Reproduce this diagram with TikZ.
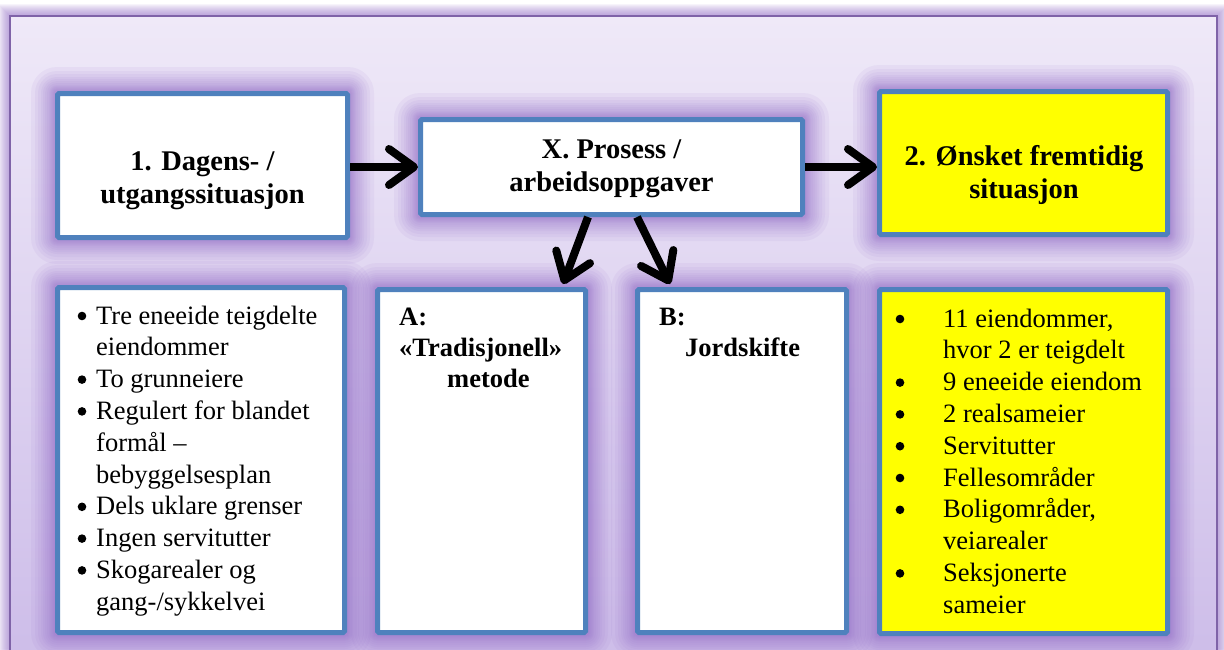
\documentclass[tikz,border=0pt]{standalone}
\usepackage{fontspec}
\setmainfont{Liberation Serif}
\usetikzlibrary{arrows.meta,calc}

\definecolor{boxblue}{HTML}{4F81BD}
\definecolor{frameline}{HTML}{7F63A8}
\definecolor{glowc}{HTML}{9670CA}
\definecolor{bgtop}{HTML}{EFE9F8}
\definecolor{bgbot}{HTML}{CBBAE8}
\definecolor{hilite}{HTML}{FFFF00}

\pgfdeclarelayer{bg}
\pgfdeclarelayer{glow}
\pgfsetlayers{bg,glow,main}

\tikzset{
  box/.style={draw=boxblue, line width=5pt, fill=white, inner sep=0pt, rounded corners=1.5pt},
  hlbox/.style={box, fill=hilite},
  title/.style={font=\fontsize{28.5}{33}\selectfont\bfseries, inner sep=0pt, anchor=base},
  subtitle/.style={font=\fontsize{26.5}{31}\selectfont\bfseries, inner sep=0pt, anchor=base west},
  body/.style={font=\fontsize{26.5}{31.8}\selectfont, inner sep=0pt, anchor=base west},
  bulletdot/.style={fill=black},
  bigarrow/.style={line width=8pt, -{Straight Barb[length=25pt,width=36pt,round]}},
}

% soft purple halo around a named box
\newcommand\halo[1]{%
  \foreach \d in {1,2,3,4,5,6,8,10,12,14,17,20,24}{%
    \fill[glowc, opacity=0.08, rounded corners={\d+2}]
      ($(#1.north west)+(-\d,-\d)$) rectangle ($(#1.south east)+(\d,\d)$);
  }}

\begin{document}
\begin{tikzpicture}[x=1pt,y=-1pt]
\useasboundingbox (0,0) rectangle (1224,649);
\clip (0,0) rectangle (1224,649);

% outer panel
\begin{pgfonlayer}{bg}
  \fill[white] (0,0) rectangle (1224,649);
  \foreach \d in {1,...,12}{%
    \draw[glowc, opacity=0.07, line width={2*\d}] (10,16) rectangle (1217,700);
  }
  \shade[top color=bgtop, bottom color=bgbot] (10,16) rectangle (1217,700);
  \draw[frameline, line width=2.5pt] (10,16) rectangle (1217,700);
\end{pgfonlayer}

% top row
\node[box, minimum width=290pt, minimum height=144pt] (b1) at (202.5,165.5) {};
\node[box, minimum width=382pt, minimum height=95pt] (bx) at (611.5,167) {};
\node[hlbox, minimum width=288pt, minimum height=143pt] (b2) at (1023.5,163) {};

% bottom row
\node[box, minimum width=287pt, minimum height=345pt] (l1) at (201,460) {};
\node[box, minimum width=208pt, minimum height=343pt] (bA) at (481.5,461) {};
\node[box, minimum width=209pt, minimum height=343pt] (bB) at (742,461) {};
\node[hlbox, minimum width=288pt, minimum height=344pt] (l2) at (1023.5,461.5) {};

\begin{pgfonlayer}{glow}
  \halo{b1}\halo{bx}\halo{b2}\halo{l1}\halo{bA}\halo{bB}\halo{l2}
\end{pgfonlayer}

% headings
\node[title] (t1) at (202.5,170) {\begin{tabular}[t]{@{}c@{}}1. Dagens- /\\utgangssituasjon\end{tabular}};
\node[title] (tx) at (611.5,158) {\begin{tabular}[t]{@{}c@{}}X. Prosess /\\arbeidsoppgaver\end{tabular}};
\node[title] (t2) at (1024,165) {\begin{tabular}[t]{@{}c@{}}2. Ønsket fremtidig\\situasjon\end{tabular}};

% current situation
\node[body] (l1t) at (96,324) {\begin{tabular}[t]{@{}l@{}}
Tre eneeide teigdelte\\
eiendommer\\
To grunneiere\\
Regulert for blandet\\
formål –\\
bebyggelsesplan\\
Dels uklare grenser\\
Ingen servitutter\\
Skogarealer og\\
gang-/sykkelvei
\end{tabular}};
\foreach \k in {0,2,3,6,7,8}
  \fill[bulletdot] ($(l1t.base west)+(-14,{\k*31.8-8})$) circle (4.3);

% methods
\node[subtitle] (tA) at (399,325) {\begin{tabular}[t]{@{}l@{}}
A:\\
«Tradisjonell»\\
\hspace*{48pt}metode
\end{tabular}};
\node[subtitle] (tB) at (659,325) {\begin{tabular}[t]{@{}l@{}}
B:\\
\hspace*{26pt}Jordskifte
\end{tabular}};

% desired situation
\node[body] (l2t) at (943,327) {\begin{tabular}[t]{@{}l@{}}
11 eiendommer,\\
hvor 2 er teigdelt\\
9 eneeide eiendom\\
2 realsameier\\
Servitutter\\
Fellesområder\\
Boligområder,\\
veiarealer\\
Seksjonerte\\
sameier
\end{tabular}};
\foreach \k in {0,2,3,4,5,6,8}
  \fill[bulletdot] ($(l2t.base west)+(-43,{\k*31.8-8})$) circle (4.3);

% process arrows
\draw[bigarrow] (b1.east |- bx.west) -- (bx.west);
\draw[bigarrow] (bx.east) -- (bx.east -| b2.west);
\draw[bigarrow] ($(bx.south)+(-23.5,0)$) -- ($(bA.north east)+(-25,-3)$);
\draw[bigarrow] ($(bx.south)+(25.5,0)$) -- ($(bB.north west)+(35,-3)$);
\end{tikzpicture}
\end{document}
